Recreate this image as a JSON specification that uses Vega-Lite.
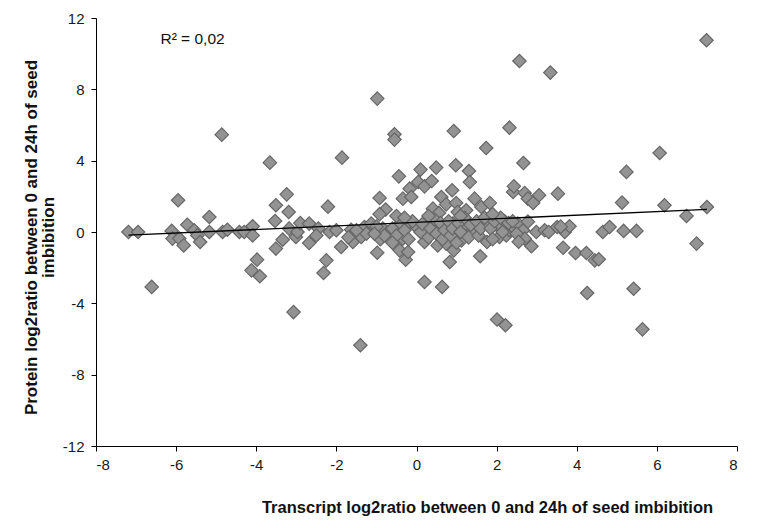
{
  "$schema": "https://vega.github.io/schema/vega-lite/v6.json",
  "autosize": {"type": "none"},
  "width": 641,
  "height": 428,
  "padding": {"left": 96, "top": 18, "right": 47, "bottom": 82},
  "background": "white",
  "config": {
    "view": {"stroke": null},
    "font": "Liberation Sans",
    "axis": {"grid": false, "domainColor": "#000", "tickColor": "#000", "labelColor": "#1a1a1a", "labelFontSize": 15, "titleFontSize": 16.5, "titleFontWeight": "bold", "titleColor": "#111", "tickSize": 5, "domainWidth": 1, "tickWidth": 1,
      "labelExpr": "datum.value < 0 ? '-' + abs(datum.value) : '' + datum.value"}
  },
  "datasets": {
    "pts": [
      {"x": -7.19, "y": 0.0}, {"x": -6.95, "y": 0.0}, {"x": -6.61, "y": -3.08}, {"x": -6.11, "y": 0.06}, {"x": -6.09, "y": -0.37},
      {"x": -5.95, "y": 1.78}, {"x": -5.92, "y": -0.37}, {"x": -5.81, "y": -0.75}, {"x": -5.72, "y": 0.41}, {"x": -5.55, "y": 0.10},
      {"x": -5.47, "y": -0.19}, {"x": -5.40, "y": -0.56}, {"x": -5.17, "y": 0.84}, {"x": -5.17, "y": 0.0}, {"x": -4.86, "y": 5.46},
      {"x": -4.84, "y": 0.0}, {"x": -4.72, "y": 0.13}, {"x": -4.42, "y": 0.0}, {"x": -4.30, "y": 0.0}, {"x": -4.09, "y": 0.32},
      {"x": -4.09, "y": -0.19}, {"x": -3.98, "y": -1.55}, {"x": -4.12, "y": -2.15}, {"x": -3.91, "y": -2.48}, {"x": -3.66, "y": 3.89},
      {"x": -3.51, "y": 1.50}, {"x": -3.24, "y": 2.11}, {"x": -3.19, "y": 1.12}, {"x": -3.53, "y": 0.62}, {"x": -3.51, "y": -0.93},
      {"x": -3.34, "y": -0.43}, {"x": -3.18, "y": 0.19}, {"x": -3.01, "y": -0.28}, {"x": -2.97, "y": 0.0}, {"x": -2.90, "y": 0.50},
      {"x": -2.68, "y": 0.47}, {"x": -2.68, "y": -0.62}, {"x": -3.07, "y": -4.49},
      {"x": -2.21, "y": 1.42}, {"x": -2.17, "y": 0.0}, {"x": -2.25, "y": -1.59}, {"x": -2.32, "y": -2.30}, {"x": -1.86, "y": 4.17},
      {"x": -1.88, "y": -0.84}, {"x": -1.63, "y": 0.13}, {"x": -1.59, "y": -0.56}, {"x": -1.40, "y": -6.35}, {"x": -1.38, "y": -0.28},
      {"x": -1.30, "y": 0.28}, {"x": -1.25, "y": -0.09}, {"x": -1.13, "y": 0.47}, {"x": -0.98, "y": 7.48}, {"x": -0.98, "y": -1.16},
      {"x": -0.92, "y": 1.91}, {"x": -0.77, "y": 1.26}, {"x": -0.92, "y": 1.0}, {"x": -0.84, "y": 0.19}, {"x": -0.71, "y": 0.0},
      {"x": -0.55, "y": 5.48}, {"x": -0.55, "y": 5.18}, {"x": -0.44, "y": 3.12}, {"x": -0.42, "y": -1.03}, {"x": -0.34, "y": 1.87},
      {"x": -0.34, "y": -0.37}, {"x": -0.27, "y": -1.55}, {"x": -0.21, "y": -1.12}, {"x": -0.17, "y": 2.43}, {"x": -0.17, "y": 0.47},
      {"x": -0.13, "y": 1.96}, {"x": 0.0, "y": 0.28}, {"x": 0.04, "y": 2.80}, {"x": 0.10, "y": 3.50}, {"x": 0.20, "y": 2.56},
      {"x": 0.20, "y": -0.56}, {"x": 0.24, "y": 0.56}, {"x": 0.20, "y": -2.80}, {"x": 0.38, "y": 2.86}, {"x": 0.41, "y": 1.31},
      {"x": 0.49, "y": 3.61}, {"x": 0.53, "y": -0.75}, {"x": 0.56, "y": 1.07}, {"x": 0.58, "y": 0.28}, {"x": 0.62, "y": 1.96},
      {"x": 0.64, "y": -3.08}, {"x": 0.74, "y": 1.55}, {"x": 0.74, "y": -0.65}, {"x": 0.83, "y": -1.68}, {"x": 0.89, "y": 2.34},
      {"x": 0.91, "y": 0.47}, {"x": 0.93, "y": 5.66}, {"x": 0.93, "y": -1.03}, {"x": 0.98, "y": 3.74}, {"x": 0.99, "y": 1.63},
      {"x": 1.03, "y": 1.12}, {"x": 1.12, "y": -0.47}, {"x": 1.24, "y": 1.22}, {"x": 1.24, "y": 0.38}, {"x": 1.31, "y": 3.42},
      {"x": 1.33, "y": 2.80}, {"x": 1.41, "y": 0.1}, {"x": 1.45, "y": 1.87}, {"x": 1.59, "y": -1.36}, {"x": 1.62, "y": 1.40},
      {"x": 1.74, "y": 4.71}, {"x": 1.74, "y": 0.47}, {"x": 1.76, "y": -0.56}, {"x": 1.83, "y": 1.63}, {"x": 2.01, "y": -4.91},
      {"x": 2.07, "y": 0.28}, {"x": 2.07, "y": -0.28}, {"x": 2.20, "y": 0.6}, {"x": 2.22, "y": -5.23}, {"x": 2.24, "y": -0.19},
      {"x": 2.32, "y": 5.85}, {"x": 2.32, "y": 0.10}, {"x": 2.41, "y": 2.24}, {"x": 2.43, "y": 2.56}, {"x": 2.41, "y": 0.28},
      {"x": 2.53, "y": 0.47}, {"x": 2.57, "y": 9.59}, {"x": 2.66, "y": 0.1}, {"x": 2.67, "y": 3.87}, {"x": 2.70, "y": 2.19},
      {"x": 2.70, "y": -0.37}, {"x": 2.78, "y": 1.87}, {"x": 2.78, "y": 0.58}, {"x": 2.87, "y": -0.80}, {"x": 2.91, "y": 1.63},
      {"x": 2.99, "y": 0.0}, {"x": 3.06, "y": 2.06}, {"x": 3.20, "y": 0.1}, {"x": 3.34, "y": 8.94}, {"x": 3.51, "y": 0.28},
      {"x": 3.53, "y": 2.15}, {"x": 3.66, "y": -0.88}, {"x": 3.70, "y": 0.0}, {"x": 3.82, "y": 0.32}, {"x": 3.97, "y": -1.18},
      {"x": 4.24, "y": -1.18}, {"x": 4.26, "y": -3.42}, {"x": 4.45, "y": -1.59}, {"x": 4.55, "y": -1.53}, {"x": 4.65, "y": 0.0},
      {"x": 4.82, "y": 0.28}, {"x": 5.13, "y": 1.65}, {"x": 5.17, "y": 0.06}, {"x": 5.24, "y": 3.37}, {"x": 5.42, "y": -3.18},
      {"x": 5.49, "y": 0.06}, {"x": 5.64, "y": -5.46}, {"x": 6.07, "y": 4.43}, {"x": 6.19, "y": 1.50}, {"x": 6.74, "y": 0.90},
      {"x": 6.99, "y": -0.65}, {"x": 7.24, "y": 10.75}, {"x": 7.25, "y": 1.40},
      {"x": -0.6, "y": 0.2}, {"x": -0.5, "y": -0.2}, {"x": -0.4, "y": 0.5}, {"x": -0.3, "y": 0.1}, {"x": -0.2, "y": -0.4},
      {"x": -0.1, "y": 0.6}, {"x": 0.1, "y": 0.0}, {"x": 0.15, "y": 0.45}, {"x": 0.3, "y": -0.3}, {"x": 0.35, "y": 0.2},
      {"x": 0.45, "y": 0.7}, {"x": 0.5, "y": -0.1}, {"x": 0.6, "y": 0.5}, {"x": 0.65, "y": -0.4}, {"x": 0.7, "y": 0.1},
      {"x": 0.8, "y": 0.6}, {"x": 0.85, "y": -0.2}, {"x": 0.9, "y": 0.2}, {"x": 1.0, "y": -0.6}, {"x": 1.05, "y": 0.5},
      {"x": 1.1, "y": 0.0}, {"x": 1.2, "y": 0.8}, {"x": 1.3, "y": -0.3}, {"x": 1.35, "y": 0.4}, {"x": 1.5, "y": 0.6},
      {"x": 1.55, "y": -0.2}, {"x": 1.6, "y": 0.2}, {"x": 1.7, "y": 0.8}, {"x": 1.85, "y": 0.2}, {"x": 1.9, "y": -0.4},
      {"x": 1.95, "y": 0.6}, {"x": 2.1, "y": 0.8}, {"x": 2.15, "y": 0.0}, {"x": 2.3, "y": 0.5}, {"x": 2.5, "y": -0.1},
      {"x": -1.0, "y": 0.3}, {"x": -0.9, "y": -0.4}, {"x": -0.8, "y": -0.2}, {"x": -0.6, "y": -0.6}, {"x": -0.5, "y": 0.9},
      {"x": -0.3, "y": 0.8}, {"x": 0.3, "y": 0.9}, {"x": 1.1, "y": 0.9}, {"x": 1.9, "y": 1.0}, {"x": -1.5, "y": 0.1},
      {"x": -1.7, "y": -0.3}, {"x": -2.0, "y": 0.1}, {"x": -2.45, "y": 0.2}, {"x": -2.5, "y": -0.2}, {"x": -1.05, "y": -0.1},
      {"x": 3.3, "y": 0.0}, {"x": 3.6, "y": 0.3}, {"x": 2.55, "y": -0.55}, {"x": 2.4, "y": 0.6}
    ],
    "trend": [{"x": -7.19, "y": -0.18}, {"x": 7.25, "y": 1.27}],
    "note": [{"x": -5.59, "y": 10.8, "label": "R² = 0,02"}]
  },
  "layer": [
    {
      "data": {"name": "pts"},
      "mark": {"type": "point", "shape": "diamond", "filled": true, "size": 180, "fill": "#939393", "stroke": "#666666", "strokeWidth": 1.2, "opacity": 1},
      "encoding": {
        "x": {"field": "x", "type": "quantitative", "scale": {"domain": [-8, 8], "nice": false, "zero": false},
          "axis": {"values": [-8, -6, -4, -2, 0, 2, 4, 6, 8], "title": "Transcript log2ratio between 0 and 24h of seed imbibition", "titleX": 391, "titleY": 61, "titleBaseline": "middle", "labelPadding": 6}},
        "y": {"field": "y", "type": "quantitative", "scale": {"domain": [-12, 12], "nice": false, "zero": false},
          "axis": {"values": [-12, -8, -4, 0, 4, 8, 12], "title": ["Protein log2ratio between 0 and 24h of seed", "imbibition"], "titleAngle": -90, "titleX": -65, "titleY": 219, "titleAlign": "center", "titleBaseline": "middle", "titleLineHeight": 17, "titleFontSize": 17, "labelPadding": 7}}
      }
    },
    {
      "data": {"name": "trend"},
      "mark": {"type": "line", "color": "#000", "strokeWidth": 1.3},
      "encoding": {"x": {"field": "x", "type": "quantitative"}, "y": {"field": "y", "type": "quantitative"}}
    },
    {
      "data": {"name": "note"},
      "mark": {"type": "text", "fontSize": 15.5, "color": "#111", "align": "center", "baseline": "middle"},
      "encoding": {"x": {"field": "x", "type": "quantitative"}, "y": {"field": "y", "type": "quantitative"}, "text": {"field": "label"}}
    }
  ]
}
